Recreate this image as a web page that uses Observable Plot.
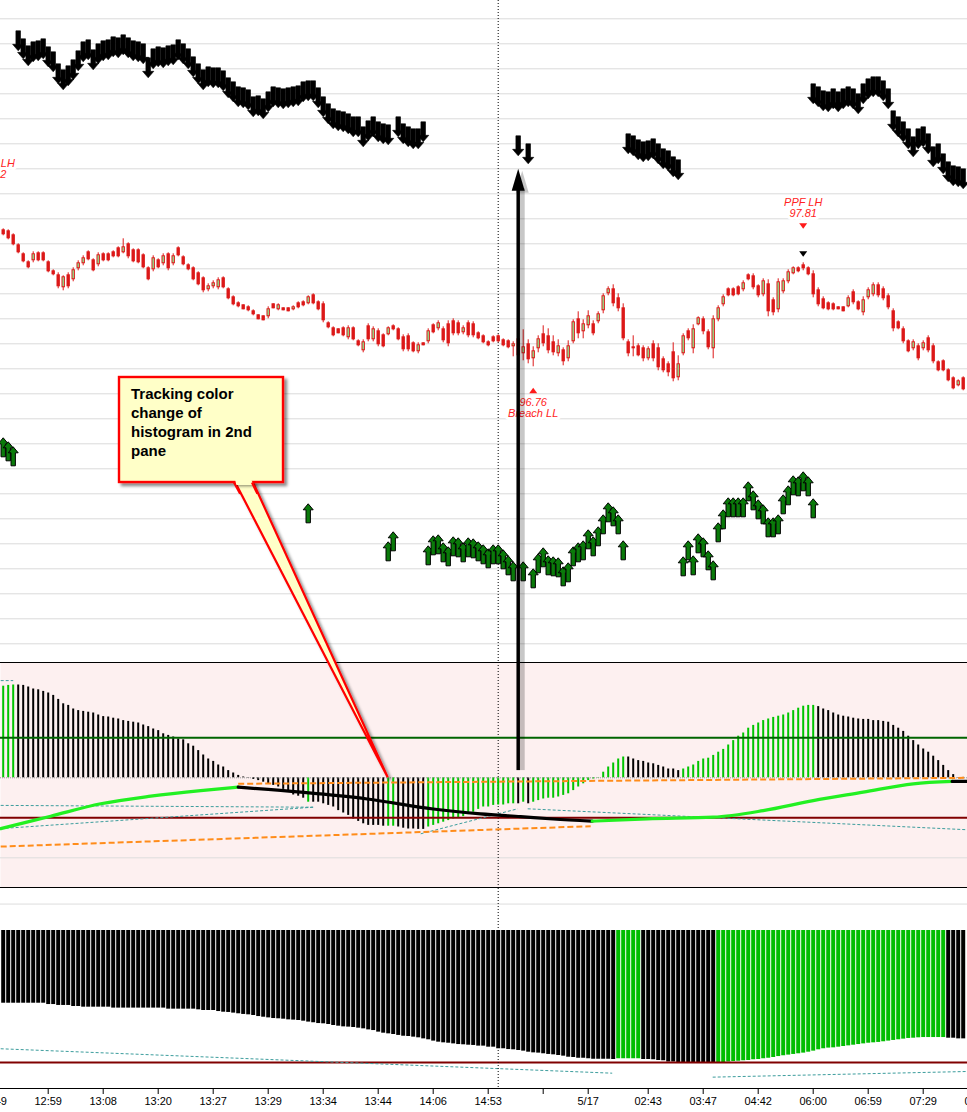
<!DOCTYPE html>
<html><head><meta charset="utf-8">
<script src="https://cdn.jsdelivr.net/npm/d3@7"></script>
<script src="https://cdn.jsdelivr.net/npm/@observablehq/plot@0.6"></script>
<style>
body{margin:0;background:#fff;}
#chart{position:relative;width:967px;height:1112px;overflow:hidden;background:#fff;}
</style></head><body><div id="chart"></div>
<script>
// ---------------- DATA ----------------
// candles, one per bar index 0..192
const candleHigh = [
98.15,98.14,98.10,98.00,97.91,97.83,97.92,97.92,97.92,97.83,
97.74,97.71,97.68,97.71,97.76,97.83,97.88,97.93,97.85,97.91,
97.91,97.91,97.93,97.97,98.05,98.01,97.95,97.95,97.90,97.77,
97.88,97.85,97.90,97.91,97.90,97.97,97.88,97.80,97.77,97.72,
97.67,97.60,97.63,97.66,97.67,97.56,97.48,97.42,97.39,97.38,
97.34,97.29,97.28,97.37,97.40,97.40,97.36,97.36,97.38,97.42,
97.43,97.48,97.50,97.43,97.42,97.22,97.17,97.15,97.17,97.18,
97.17,97.04,97.04,97.20,97.17,97.15,97.10,97.17,97.19,97.16,
97.09,97.10,97.02,97.01,97.01,97.15,97.20,97.23,97.17,97.23,
97.25,97.23,97.18,97.23,97.22,97.12,97.09,97.03,97.08,97.09,
97.05,97.04,97.02,97.13,97.14,97.04,96.97,97.08,97.18,97.15,
97.08,97.04,96.96,97.03,97.24,97.32,97.24,97.33,97.23,97.32,
97.50,97.57,97.59,97.50,97.40,97.04,97.08,97.00,96.98,96.97,
97.03,97.00,96.87,96.82,97.01,96.88,97.10,97.15,97.19,97.27,
97.27,97.14,97.28,97.38,97.49,97.56,97.56,97.58,97.63,97.70,
97.70,97.59,97.65,97.64,97.46,97.65,97.65,97.74,97.77,97.77,
97.81,97.77,97.73,97.56,97.47,97.42,97.41,97.37,97.37,97.48,
97.54,97.43,97.47,97.56,97.61,97.61,97.57,97.50,97.35,97.23,
97.17,97.04,97.04,97.00,97.03,97.08,97.00,96.83,96.84,96.75,
96.67,96.64,96.67];
const candleLow = [
98.08,98.04,97.98,97.90,97.81,97.75,97.81,97.82,97.82,97.71,
97.68,97.55,97.53,97.55,97.62,97.73,97.78,97.83,97.72,97.77,
97.82,97.82,97.86,97.86,97.90,97.85,97.81,97.80,97.75,97.63,
97.72,97.75,97.78,97.73,97.78,97.87,97.78,97.73,97.63,97.58,
97.51,97.52,97.55,97.54,97.55,97.44,97.38,97.36,97.34,97.32,
97.28,97.24,97.23,97.25,97.35,97.33,97.33,97.32,97.33,97.35,
97.37,97.39,97.39,97.33,97.21,97.15,97.07,97.10,97.07,97.04,
97.03,96.97,96.91,97.02,97.02,96.97,96.96,97.08,97.13,97.03,
96.92,96.92,96.91,96.90,96.98,97.00,97.10,97.13,97.01,96.97,
97.08,97.08,97.09,97.06,97.06,97.04,97.00,96.97,97.01,97.01,
96.97,96.95,96.87,96.83,96.83,96.80,96.77,96.91,96.97,96.90,
96.88,96.87,96.78,96.82,97.00,97.05,97.05,97.15,97.08,97.20,
97.30,97.48,97.37,97.32,97.03,96.87,96.87,96.87,96.82,96.83,
96.82,96.73,96.71,96.67,96.62,96.63,96.88,97.03,96.90,97.18,
97.09,96.94,96.85,97.22,97.37,97.47,97.47,97.48,97.52,97.63,
97.54,97.46,97.47,97.27,97.28,97.31,97.50,97.60,97.69,97.71,
97.73,97.68,97.46,97.37,97.34,97.33,97.33,97.34,97.32,97.36,
97.39,97.33,97.28,97.44,97.47,97.46,97.43,97.34,97.12,97.14,
97.00,96.91,96.93,96.83,96.93,96.91,96.80,96.72,96.72,96.62,
96.54,96.57,96.53];
const candleOpen = [
98.14,98.13,98.09,97.99,97.90,97.82,97.83,97.91,97.91,97.82,
97.73,97.69,97.56,97.69,97.64,97.75,97.80,97.92,97.84,97.79,
97.90,97.90,97.92,97.96,97.91,98.00,97.94,97.94,97.89,97.76,
97.74,97.84,97.80,97.90,97.80,97.96,97.87,97.79,97.76,97.71,
97.66,97.54,97.57,97.56,97.66,97.55,97.47,97.41,97.39,97.37,
97.33,97.29,97.28,97.27,97.40,97.34,97.36,97.36,97.34,97.41,
97.42,97.40,97.49,97.42,97.40,97.21,97.16,97.15,97.16,97.06,
97.16,97.03,96.93,97.18,97.04,97.13,97.09,97.09,97.18,97.15,
97.07,97.08,97.01,96.92,97.01,97.02,97.19,97.15,97.15,97.20,
97.23,97.21,97.11,97.21,97.20,97.11,97.08,97.02,97.07,97.08,
97.04,97.03,96.97,97.05,96.90,97.00,96.85,96.95,97.10,97.08,
97.02,96.90,96.94,96.85,97.02,97.25,97.12,97.18,97.20,97.22,
97.33,97.50,97.55,97.46,97.36,97.02,96.95,96.98,96.96,96.85,
97.00,96.96,96.85,96.80,96.92,96.66,96.90,97.13,96.95,97.19,
97.25,97.12,96.95,97.24,97.39,97.55,97.55,97.57,97.54,97.69,
97.68,97.58,97.49,97.60,97.44,97.34,97.52,97.62,97.70,97.76,
97.79,97.76,97.70,97.54,97.45,97.41,97.40,97.37,97.37,97.37,
97.52,97.42,97.31,97.46,97.49,97.59,97.55,97.48,97.33,97.22,
97.15,97.03,96.95,96.98,96.95,97.06,96.98,96.82,96.83,96.74,
96.66,96.58,96.66];
const candleClose = [
98.09,98.05,97.99,97.91,97.82,97.76,97.90,97.83,97.83,97.72,
97.69,97.57,97.67,97.57,97.74,97.81,97.86,97.84,97.73,97.89,
97.83,97.83,97.87,97.87,97.97,97.87,97.82,97.81,97.76,97.64,
97.86,97.76,97.88,97.75,97.88,97.88,97.79,97.74,97.64,97.59,
97.53,97.58,97.61,97.64,97.56,97.45,97.39,97.37,97.34,97.33,
97.29,97.24,97.23,97.35,97.35,97.39,97.33,97.32,97.37,97.36,
97.38,97.47,97.40,97.34,97.23,97.16,97.08,97.10,97.08,97.16,
97.04,96.98,97.02,97.04,97.15,96.99,96.97,97.16,97.14,97.04,
96.94,96.94,96.92,96.99,96.98,97.13,97.11,97.21,97.03,97.00,
97.10,97.10,97.16,97.08,97.08,97.05,97.01,96.98,97.02,97.02,
96.98,96.96,97.00,96.88,96.97,96.84,96.93,97.05,97.00,96.93,
96.91,96.98,96.82,96.98,97.22,97.10,97.20,97.28,97.10,97.30,
97.48,97.55,97.40,97.35,97.05,96.90,96.97,96.88,96.85,96.95,
96.85,96.76,96.73,96.71,96.65,96.80,97.08,97.05,97.15,97.26,
97.12,96.96,97.25,97.36,97.47,97.48,97.48,97.49,97.61,97.64,
97.56,97.48,97.63,97.32,97.31,97.62,97.63,97.72,97.76,97.72,
97.75,97.69,97.49,97.39,97.35,97.34,97.34,97.34,97.32,97.46,
97.41,97.34,97.44,97.54,97.59,97.48,97.45,97.36,97.15,97.15,
97.02,96.92,97.02,96.85,97.01,96.93,96.82,96.73,96.73,96.63,
96.55,96.63,96.54];

// black down-arrow signals: [bar index, arrow tip price]
const downArrows = [
[3,99.93],[4,99.85],[5,99.78],[6,99.82],[7,99.83],[8,99.85],[9,99.77],[10,99.72],[11,99.60],[12,99.54],
[13,99.58],[14,99.64],[15,99.73],[16,99.82],[17,99.84],[18,99.74],[19,99.80],[20,99.83],[21,99.84],[22,99.87],
[23,99.86],[24,99.89],[25,99.86],[26,99.83],[27,99.82],[28,99.80],[29,99.66],[30,99.75],[31,99.77],[32,99.76],
[33,99.78],[34,99.79],[35,99.84],[36,99.80],[37,99.75],[38,99.67],[39,99.60],[40,99.54],[41,99.57],[42,99.56],
[43,99.56],[44,99.53],[45,99.46],[46,99.42],[47,99.37],[48,99.36],[49,99.34],[50,99.27],[51,99.28],[52,99.25],
[53,99.32],[54,99.37],[55,99.36],[56,99.35],[57,99.36],[58,99.37],[59,99.38],[60,99.42],[61,99.43],[62,99.43],
[63,99.36],[64,99.27],[65,99.20],[66,99.15],[67,99.13],[68,99.12],[69,99.10],[70,99.07],[71,99.07],[72,98.97],
[73,99.03],[74,99.07],[75,99.02],[76,99.00],[77,98.99],
[79,99.07],[80,99.00],[81,98.97],[82,98.95],[83,98.95],[84,99.02],
[103,98.88],[105,98.80],
[125,98.90],[126,98.88],[127,98.84],[128,98.82],[129,98.83],[130,98.85],[131,98.80],[132,98.75],[133,98.73],[134,98.67],[135,98.64],
[162,99.40],[163,99.37],[164,99.33],[165,99.32],[166,99.35],[167,99.32],[168,99.35],[169,99.37],[170,99.35],[171,99.30],
[172,99.40],[173,99.45],[174,99.47],[175,99.47],[176,99.43],[177,99.35],[178,99.13],[179,99.07],[180,99.02],[181,98.95],
[182,98.87],[183,98.95],[184,98.97],[185,98.90],[186,98.77],[187,98.80],[188,98.70],[189,98.62],[190,98.58],[191,98.57],[192,98.55]];

// green up-arrow signals: [bar index, arrow tip price]
const upArrows = [
[0,96.06],[1,96.02],[2,95.97],[61,95.40],[77,95.02],[78,95.12],
[85,94.98],[86,95.08],[87,95.09],[88,95.01],[89,94.97],[90,95.07],[91,95.06],[92,95.01],[93,95.06],[94,95.05],[95,95.02],
[96,94.99],[97,94.95],[98,94.99],[99,94.99],[100,94.94],[101,94.88],[102,94.82],[104,94.82],[106,94.75],[107,94.90],
[108,94.96],[109,94.88],[110,94.87],[111,94.86],[112,94.77],[113,94.81],[114,94.97],[115,95.01],[116,95.03],[117,95.14],
[118,95.07],[119,95.17],[120,95.29],[121,95.41],[122,95.37],[123,95.29],[124,95.03],
[136,94.87],[137,95.03],[138,94.88],[139,95.10],[140,95.06],[141,94.93],[142,94.83],[143,95.21],[144,95.34],[145,95.46],
[146,95.46],[147,95.46],[148,95.46],[149,95.62],[150,95.53],[151,95.44],[152,95.39],[153,95.26],[154,95.26],[155,95.29],
[156,95.49],[157,95.58],[158,95.68],[159,95.67],[160,95.72],[161,95.67],[162,95.45]];

// price annotations
const priceLabels = [
  {i: 160, price: 98.36, text: "PPF LH\n97.81"},
  {i: 106, price: 96.36, text: "96.76\nBreach LL"},
  {i: -1.5, price: 98.75, text: "PPF LH\n98.2"}];
const redDownMarks = [[160, 98.18], [-1.5, 98.60]];
const blackDownMarks = [[160, 97.90]];
const redUpMarks = [[106, 96.53]];

// histogram (2nd pane)
const histValue = [
2.29,2.31,2.32,2.32,2.31,2.27,2.22,2.20,2.16,2.12,
2.06,1.96,1.85,1.81,1.72,1.68,1.66,1.64,1.62,1.57,
1.53,1.52,1.49,1.47,1.43,1.41,1.39,1.37,1.32,1.28,
1.22,1.18,1.10,1.06,1.02,0.97,0.95,0.85,0.79,0.68,
0.57,0.47,0.41,0.32,0.27,0.18,0.12,0.06,0.02,-0.01,
-0.04,-0.07,-0.11,-0.15,-0.19,-0.23,-0.29,-0.36,-0.43,-0.46,
-0.51,-0.61,-0.61,-0.61,-0.65,-0.69,-0.73,-0.82,-0.88,-0.94,
-1.03,-1.09,-1.15,-1.19,-1.19,-1.19,-1.21,-1.21,-1.21,-1.23,
-1.26,-1.28,-1.28,-1.29,-1.29,-1.23,-1.19,-1.15,-1.11,-1.07,
-1.03,-1.01,-0.97,-0.92,-0.86,-0.79,-0.73,-0.73,-0.69,-0.68,
-0.68,-0.65,-0.65,-0.65,-0.61,-0.65,-0.61,-0.57,-0.53,-0.51,
-0.51,-0.48,-0.44,-0.40,-0.32,-0.23,-0.15,-0.07,-0.03,-0.01,
0.14,0.27,0.37,0.47,0.52,0.52,0.47,0.43,0.41,0.37,
0.35,0.31,0.27,0.22,0.22,0.18,0.22,0.27,0.32,0.41,
0.47,0.49,0.56,0.64,0.71,0.82,0.93,1.04,1.12,1.24,
1.31,1.37,1.43,1.47,1.51,1.54,1.57,1.62,1.68,1.74,
1.79,1.81,1.81,1.78,1.72,1.68,1.62,1.57,1.54,1.52,
1.49,1.47,1.46,1.46,1.43,1.43,1.41,1.39,1.31,1.24,
1.16,1.04,0.93,0.82,0.72,0.64,0.54,0.43,0.31,0.18,
0.08,-0.01,0.01];
// colour runs of the histogram: [state, number of bars]
const histColorRuns = [["up",3],["down",58],["up",1],["down",15],["up",2],["down",6],["up",18],
  ["down",1],["up",1],["down",1],["up",19],["down",11],["up",27],["down",30]];
// signal line of the histogram, segments by slope
const signalSegments = [
  {rising: true,  pts: [[-0.5,-1.27],[9.5,-0.96],[19.5,-0.65],[29.5,-0.46],[39.5,-0.32],[47,-0.235]]},
  {rising: false, pts: [[47,-0.235],[59.5,-0.36],[72.8,-0.53],[86,-0.78],[95.5,-0.90],[103.5,-0.97],[110,-1.03],[117.8,-1.085]]},
  {rising: true,  pts: [[117.8,-1.085],[128.8,-1.025],[142,-0.985],[152,-0.82],[162,-0.57],[172,-0.36],[182,-0.15],[189.8,-0.09]]},
  {rising: false, pts: [[189.8,-0.09],[193,-0.09]]}];
// trend lines in the 2nd pane: [i1, v1, i2, v2]
const histTealLines = [[-0.5,2.43,2,2.43],[-0.5,-0.69,62,-0.735],[-0.5,-1.27,62,-0.735],[83.5,-1.40,102.9,-0.775],[104.9,-0.775,193,-1.30]];
const histOrangeLines = [[-0.5,-1.72,117.5,-1.21],[47,-0.15,193,0.0]];
const histLevels = {upper: 1, lower: -1, grid: -2};

// 3rd pane: bar bottoms (bars hang from level 100)
const lowerBarValue = [
44.9,44.9,44.9,44.9,44.9,44.9,44.9,44.9,44.9,43.9,
43.9,43.2,43.2,43.2,42.4,42.4,41.9,41.9,41.9,41.9,
41.9,41.9,41.2,41.2,41.2,41.2,41.2,41.2,41.2,41.2,
41.2,41.2,41.2,40.4,40.4,40.4,40.4,40.4,40.4,39.9,
39.4,39.4,39.4,38.6,38.1,37.9,37.4,36.9,36.4,36.1,
35.6,34.8,34.3,33.8,33.3,33.1,32.8,32.3,32.1,31.8,
31.3,30.6,30.1,29.5,29.3,28.8,28.0,27.5,27.0,26.8,
26.5,26.0,25.5,24.7,24.2,23.0,22.2,21.7,21.2,20.5,
19.9,19.7,19.2,18.7,17.9,17.2,16.2,15.4,14.9,14.6,
14.1,13.6,13.4,13.1,12.9,12.4,12.4,11.6,11.6,10.4,
10.4,9.8,9.6,9.1,8.6,7.8,7.3,7.1,6.6,6.1,
5.8,5.3,4.8,4.0,3.8,3.3,3.3,2.8,2.5,2.5,
2.5,2.5,2.3,2.8,2.8,2.8,2.8,2.8,2.3,2.3,
2.0,1.5,1.3,0.3,0.3,-0.3,-0.3,-0.3,-0.3,-0.3,
-0.3,-0.3,-0.3,-0.5,-0.5,0.3,0.8,1.0,1.3,1.5,
2.0,2.3,2.8,3.3,3.8,4.5,5.1,5.6,6.1,6.6,
7.1,7.8,8.6,9.6,10.4,10.9,11.1,11.6,12.1,12.6,
13.1,13.6,14.1,14.6,14.9,15.2,15.7,16.2,16.7,17.2,
17.7,18.2,18.4,18.7,18.9,18.9,18.9,18.9,18.9,18.4,
18.4,17.9,17.9];
const lowerBarTop = 100;
const lowerColorRuns = [["down",123],["up",5],["down",15],["up",46],["down",4]];
const lowerTealLines = [[-0.5,10.4,121.8,-8.1],[141.9,-11.1,193,-6.8]];
const lowerGrid = 120;

// x axis
const tickIndex  = [-2, 9, 20, 31, 42, 53, 64, 75, 86, 97, 108, 117, 129, 140, 151, 162, 173, 184, 195];
const tickLabels = ["12:49","12:59","13:08","13:20","13:27","13:29","13:34","13:44","14:06","14:53","","5/17","02:43","03:47","04:42","06:00","06:59","07:29","08:00"];

// annotations
const crosshairIndex = 99;
const bigArrow = {i: 103, tipPrice: 98.75, baseHist: 0.18};
const callout = {i: 77, lines: ["Tracking color", "change of", "histogram in 2nd", "pane"]};

// ---------------- DRAWING ----------------
const W = 967;
const FONT = '"Liberation Sans", Arial, sans-serif';
const RED = "#dc1818";
const xDomain = [-0.54, 192.86];
const expandRuns = runs => runs.flatMap(([s, n]) => Array(n).fill(s));

const poly = pts => ({draw(ctx) { ctx.moveTo(pts[0][0], pts[0][1]); for (const p of pts.slice(1)) ctx.lineTo(p[0], p[1]); ctx.closePath(); }});
const downArrowSym = poly([[-2.3,-20],[2.3,-20],[2.3,-6.5],[5.6,-6.5],[0,0],[-5.6,-6.5],[-2.3,-6.5]]);
const upArrowSym = poly([[0,0],[5,6],[2.2,6],[2.2,19],[-2.2,19],[-2.2,6],[-5,6]]);
const triDown = poly([[-4,-2.5],[4,-2.5],[0,3]]);
const triUp = poly([[0,-3],[4,2.5],[-4,2.5]]);
const bigHead = poly([[0,0],[6.5,22],[-6.5,22]]);

const candles = candleHigh.map((h, i) => ({i, high: h, low: candleLow[i], open: candleOpen[i], close: candleClose[i],
  top: Math.max(candleOpen[i], candleClose[i]), bot: Math.min(candleOpen[i], candleClose[i]), up: candleClose[i] >= candleOpen[i]}));

const chart = document.getElementById("chart");
function place(svg, top) {
  svg.style.position = "absolute"; svg.style.left = "0px"; svg.style.top = top + "px";
  svg.style.maxWidth = "none"; svg.style.background = "transparent";
  chart.appendChild(svg);
  return svg;
}

// ---- pane 1: price ----
const yP = [93.813, 100.433];
const p1 = Plot.plot({
  width: W, height: 662, marginTop: 0, marginBottom: 0, marginLeft: 0, marginRight: 0,
  x: {domain: xDomain, axis: null},
  y: {domain: yP, axis: null},
  style: {fontFamily: FONT, fontSize: "11px"},
  marks: [
    Plot.ruleY(d3.range(94, 100.3, 0.25), {stroke: "#dadada"}),
    Plot.ruleX([crosshairIndex], {stroke: "#000", strokeDasharray: "1,2"}),
    Plot.ruleX(candles, {x: "i", y1: "high", y2: "low", stroke: RED, strokeWidth: 1}),
    Plot.ruleX(candles, {x: "i", y1: "top", y2: "bot", stroke: RED, strokeWidth: 3.4}),
    Plot.ruleX(candles.filter(d => d.up), {x: "i", y1: "top", y2: "bot", stroke: "#8fe38f", strokeWidth: 1.4, insetTop: 1, insetBottom: 1}),
    Plot.dot(downArrows, {x: d => d[0], y: d => d[1], symbol: downArrowSym, fill: "#000", stroke: "#000", strokeWidth: 0.6}),
    Plot.dot(upArrows, {x: d => d[0], y: d => d[1], symbol: upArrowSym, fill: "#0a7a0a", stroke: "#000", strokeWidth: 1}),
    // markers and labels
    Plot.dot(redDownMarks, {x: d => d[0], y: d => d[1], symbol: triDown, fill: "#ff1a1a", stroke: "none"}),
    Plot.dot(blackDownMarks, {x: d => d[0], y: d => d[1], symbol: triDown, fill: "#000", stroke: "none"}),
    Plot.dot(redUpMarks, {x: d => d[0], y: d => d[1], symbol: triUp, fill: "#ff1a1a", stroke: "none"}),
    Plot.text(priceLabels, {x: "i", y: "price", text: "text", fill: "#ff2222", fontStyle: "italic", fontSize: 11,
      lineHeight: 1.06, stroke: "white", strokeWidth: 6}),
    // big arrow (shadow + body), drawn over the labels
    Plot.ruleX([bigArrow], {x: "i", y1: bigArrow.tipPrice - 0.2, y2: yP[0], stroke: "rgba(0,0,0,0.22)", strokeWidth: 5, dx: 4}),
    Plot.dot([bigArrow], {x: "i", y: "tipPrice", symbol: bigHead, fill: "rgba(0,0,0,0.22)", stroke: "none", dx: 4, dy: 2}),
    Plot.ruleX([bigArrow], {x: "i", y1: bigArrow.tipPrice - 0.2, y2: yP[0], stroke: "#000", strokeWidth: 3.5}),
    Plot.dot([bigArrow], {x: "i", y: "tipPrice", symbol: bigHead, fill: "#000", stroke: "none"})
  ]
});
place(p1, 0);

// ---- pane 2: histogram ----
const yH = [-2.7425, 2.8825];
const histState = expandRuns(histColorRuns);
const hist = histValue.map((v, i) => ({i, v, up: histState[i] === "up"}));
const signalPts = signalSegments.flatMap((s, k) => s.pts.map(p => ({i: p[0], v: p[1], seg: k, rising: s.rising})));
const p2 = Plot.plot({
  width: W, height: 226, marginTop: 0, marginBottom: 1, marginLeft: 0, marginRight: 0,
  x: {domain: xDomain, axis: null},
  y: {domain: yH, axis: null},
  style: {fontFamily: FONT, fontSize: "11px"},
  marks: [
    Plot.frame({fill: "#fdf0f0", stroke: "none"}),
    Plot.ruleY([histLevels.grid], {stroke: "#dddddd"}),
    Plot.ruleX([crosshairIndex], {stroke: "#000", strokeDasharray: "1,2"}),
    Plot.ruleX(hist, {x: "i", y1: 0, y2: "v", stroke: d => d.up ? "#00c400" : "#000", strokeWidth: 2}),
    Plot.ruleY([0], {stroke: "#999", strokeDasharray: "1,1"}),
    Plot.ruleY([histLevels.upper], {stroke: "#006400", strokeWidth: 2}),
    Plot.ruleY([histLevels.lower], {stroke: "#800000", strokeWidth: 2}),
    Plot.link(histTealLines, {x1: d => d[0], y1: d => d[1], x2: d => d[2], y2: d => d[3], stroke: "#3c9d9d", strokeWidth: 1, strokeDasharray: "3,2"}),
    Plot.link(histOrangeLines, {x1: d => d[0], y1: d => d[1], x2: d => d[2], y2: d => d[3], stroke: "#ff8c1a", strokeWidth: 2, strokeDasharray: "6,3"}),
    Plot.line(signalPts, {x: "i", y: "v", z: "seg", stroke: d => d.rising ? "#22f022" : "#000", strokeWidth: 3.2, curve: "monotone-x"}),
    Plot.ruleX([bigArrow], {x: "i", y1: yH[1], y2: "baseHist", stroke: "rgba(0,0,0,0.22)", strokeWidth: 5, dx: 4}),
    Plot.ruleX([bigArrow], {x: "i", y1: yH[1], y2: "baseHist", stroke: "#000", strokeWidth: 3.5}),
    Plot.ruleY([yH[1], yH[0]], {stroke: "#000", strokeWidth: 1})
  ]
});
place(p2, 662);

// ---- pane 3: lower bars + axis ----
const yL = [-19.7, 131.8];
const lowerState = expandRuns(lowerColorRuns);
const lower = lowerBarValue.map((v, i) => ({i, v, up: lowerState[i] === "up"}));
const labelByTick = new Map(tickIndex.map((t, k) => [t, tickLabels[k]]));
const p3 = Plot.plot({
  width: W, height: 224, marginTop: 0, marginBottom: 24, marginLeft: 0, marginRight: 0,
  x: {domain: xDomain},
  y: {domain: yL, axis: null},
  style: {fontFamily: FONT, fontSize: "11px"},
  marks: [
    Plot.ruleY([lowerGrid], {stroke: "#dddddd"}),
    Plot.ruleX(lower, {x: "i", y1: lowerBarTop, y2: "v", stroke: d => d.up ? "#00bd00" : "#000", strokeWidth: 4}),
    Plot.ruleY([0], {stroke: "#800000", strokeWidth: 2}),
    Plot.link(lowerTealLines, {x1: d => d[0], y1: d => d[1], x2: d => d[2], y2: d => d[3], stroke: "#3c9d9d", strokeWidth: 1, strokeDasharray: "3,2"}),
    Plot.ruleX([crosshairIndex], {stroke: "#000", strokeDasharray: "1,2"}),
    Plot.ruleY([yL[0]], {stroke: "#000", strokeWidth: 1}),
    Plot.axisX({ticks: tickIndex, tickFormat: d => labelByTick.get(d), tickSize: 6, tickPadding: 3, label: null, color: "#000", fontSize: 11})
  ]
});
place(p3, 888);

// ---- overlay: callout ----
const tipX = p2.scale("x").apply(callout.i);
const tipY = 662 + p2.scale("y").apply(0);
const ov = d3.create("svg").attr("width", W).attr("height", 1112)
  .style("position", "absolute").style("left", "0px").style("top", "0px").style("pointer-events", "none");
const defs = ov.append("defs");
const f = defs.append("filter").attr("id", "sh").attr("x", "-20%").attr("y", "-20%").attr("width", "150%").attr("height", "150%");
f.append("feDropShadow").attr("dx", 3).attr("dy", 3).attr("stdDeviation", 1.6).attr("flood-color", "#000").attr("flood-opacity", 0.45);
const g = ov.append("g").attr("filter", "url(#sh)");
const box = {x: 119, y: 377, w: 164, h: 105};
const wedge = [[234, box.y + box.h - 2], [252, box.y + box.h - 2], [tipX, tipY]];
g.append("polygon").attr("points", wedge.map(p => p.join(",")).join(" ")).attr("fill", "#ffffc8").attr("stroke", "#ff0000").attr("stroke-width", 2.2).attr("stroke-linejoin", "miter");
const g2 = ov.append("g");
g2.append("rect").attr("x", box.x).attr("y", box.y).attr("width", box.w).attr("height", box.h)
  .attr("fill", "#ffffc8").attr("stroke", "#ff0000").attr("stroke-width", 2.4).attr("filter", "url(#sh)");
g2.append("polygon").attr("points", [[235.2, box.y + box.h - 3], [250.8, box.y + box.h - 3], [254, box.y + box.h + 3], [236, box.y + box.h + 3]].map(p => p.join(",")).join(" "))
  .attr("fill", "#ffffc8");
g2.append("path").attr("d", `M234,${box.y + box.h + 0.5}L${(234*0.96 + tipX*0.04)},${(box.y+box.h)*0.96 + tipY*0.04}M252,${box.y + box.h + 0.5}L${(252*0.96 + tipX*0.04)},${(box.y+box.h)*0.96 + tipY*0.04}`)
  .attr("stroke", "#ff0000").attr("stroke-width", 2.2).attr("fill", "none");
g2.selectAll("text.c").data(callout.lines).join("text")
  .attr("x", 131).attr("y", (d, k) => 399 + 19 * k)
  .attr("font-family", FONT).attr("font-size", 15).attr("font-weight", "bold").attr("fill", "#000")
  .text(d => d);
chart.appendChild(ov.node());
</script></body></html>
